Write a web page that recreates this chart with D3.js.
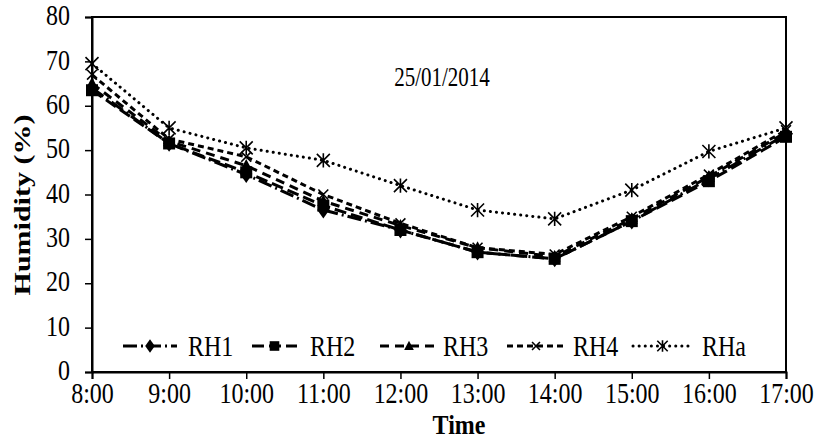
<!DOCTYPE html>
<html><head><meta charset="utf-8">
<script src="https://cdn.jsdelivr.net/npm/d3@7"></script>
<style>body{margin:0;background:#fff}svg{display:block}text{font-family:"Liberation Serif","Times New Roman",serif;fill:#000}
.st{transform-box:fill-box;transform-origin:center;transform:scale(1,1.25)}
.st2{transform-box:fill-box;transform-origin:center;transform:scale(1,1.12)}</style>
</head><body><svg id="c" width="820" height="443"></svg>
<script>
const times = ["8:00","9:00","10:00","11:00","12:00","13:00","14:00","15:00","16:00","17:00"];
const yTicks = [0,10,20,30,40,50,60,70,80];
const seriesNames = ["RH1","RH2","RH3","RH4","RHa"];
const RH1 = [64,51.5,44.5,36.5,32,27,25.5,34,43.5,53.5];
const RH2 = [63.5,51.5,45,37.5,32,27,25.5,34,43,53];
const RH3 = [65,52,46.5,38.5,33,28,26,34.5,44,54];
const RH4 = [67,52.5,48.5,40,33.5,28,26.5,35,44.5,54.5];
const RHa = [69.5,55,50.5,47.7,42,36.5,34.5,41,49.7,55];
const chartTitle = "25/01/2014";

const styles = [
  {dash:"14,4,2,4", marker:"diamond"},
  {dash:"12,5", marker:"square"},
  {dash:"9,6", marker:"triangle"},
  {dash:"6,4", marker:"x"},
  {dash:"0.1,6", marker:"asterisk"}
];
const series = [RH1,RH2,RH3,RH4,RHa].map((v,i)=>Object.assign({name:seriesNames[i], values:v}, styles[i]));

const svg = d3.select("#c");
const L=92, R=786, T=17, B=372;
const x = d3.scalePoint().domain(times).range([L,R]);
const y = d3.scaleLinear().domain([0,80]).range([B,T]);

svg.append("rect").attr("x",L).attr("y",T).attr("width",R-L).attr("height",B-T)
  .attr("fill","none").attr("stroke","#000").attr("stroke-width",2);

const xAxis = svg.append("g").attr("transform",`translate(0,${B})`)
  .call(d3.axisBottom(x).tickSize(7).tickPadding(5));
const yAxis = svg.append("g").attr("transform",`translate(${L},0)`)
  .call(d3.axisLeft(y).tickValues(yTicks).tickSize(7).tickPadding(15));
[xAxis,yAxis].forEach(a=>{
  a.select(".domain").attr("stroke","#000").attr("stroke-width",2);
  a.selectAll(".tick line").attr("stroke","#000").attr("stroke-width",1.5);
  a.selectAll("text").attr("class","st").style("font-family",'"Liberation Serif",serif').style("font-size","24px").attr("fill","#000");
});
yAxis.selectAll("text").attr("dy","0.32em").attr("y",-2);

svg.append("text").attr("class","st2").attr("x",(L+R)/2+20).attr("y",433).attr("text-anchor","middle")
  .style("font-size","24px").style("font-weight","bold").text("Time");
svg.append("text").attr("transform",`translate(30,205) scale(1,1.25) rotate(-90)`).attr("text-anchor","middle")
  .style("font-size","24px").style("font-weight","bold").text("Humidity (%)");
svg.append("text").attr("class","st").attr("x",442).attr("y",84).attr("text-anchor","middle")
  .style("font-size","21px").text(chartTitle);

function drawMarker(g, type, cx, cy, s){
  if(type==="diamond"){
    g.append("path").attr("d",`M${cx},${cy-s*0.7}L${cx+s*0.5},${cy}L${cx},${cy+s*0.7}L${cx-s*0.5},${cy}Z`).attr("fill","#000");
  } else if(type==="square"){
    g.append("rect").attr("x",cx-s/2).attr("y",cy-s/2).attr("width",s).attr("height",s).attr("fill","#000");
  } else if(type==="triangle"){
    g.append("path").attr("d",`M${cx},${cy-s*0.6}L${cx+s*0.55},${cy+s*0.45}L${cx-s*0.55},${cy+s*0.45}Z`).attr("fill","#000");
  } else if(type==="x"){
    const h=s*0.45;
    g.append("path").attr("d",`M${cx-h},${cy-h}L${cx+h},${cy+h}M${cx-h},${cy+h}L${cx+h},${cy-h}`).attr("stroke","#000").attr("stroke-width",1.6);
  } else if(type==="asterisk"){
    const h=s*0.5;
    g.append("path").attr("d",`M${cx-h},${cy-h}L${cx+h},${cy+h}M${cx-h},${cy+h}L${cx+h},${cy-h}M${cx},${cy-h*1.1}L${cx},${cy+h*1.1}`).attr("stroke","#000").attr("stroke-width",1.6);
  }
}
const sizes = {diamond:12, square:12, triangle:11, x:11, asterisk:13};

const line = d3.line().x((d,i)=>x(times[i])).y(d=>y(d));
series.forEach(s=>{
  svg.append("path").datum(s.values).attr("d",line).attr("fill","none")
    .attr("stroke","#000").attr("stroke-width",3)
    .attr("stroke-linecap",s.marker==="asterisk"?"round":"butt")
    .attr("stroke-dasharray",s.dash);
  const g = svg.append("g");
  s.values.forEach((v,i)=>drawMarker(g,s.marker,x(times[i]),y(v),sizes[s.marker]));
});

// legend
const legX = [123,252,380,507,633];
const legLabelX = [188,310,443,573,702];
const legW = [54,45,58,58,59];
const ly = 346;
series.forEach((s,i)=>{
  const g = svg.append("g");
  g.append("line").attr("x1",legX[i]).attr("x2",legX[i]+legW[i]).attr("y1",ly).attr("y2",ly)
    .attr("stroke","#000").attr("stroke-width",3)
    .attr("stroke-linecap",s.marker==="asterisk"?"round":"butt")
    .attr("stroke-dasharray",s.dash);
  drawMarker(g,s.marker,legX[i]+legW[i]/2,ly,sizes[s.marker]*0.8);
  g.append("text").attr("class","st").attr("x",legLabelX[i]).attr("y",ly+8).style("font-size","24px").text(s.name);
});
</script></body></html>
